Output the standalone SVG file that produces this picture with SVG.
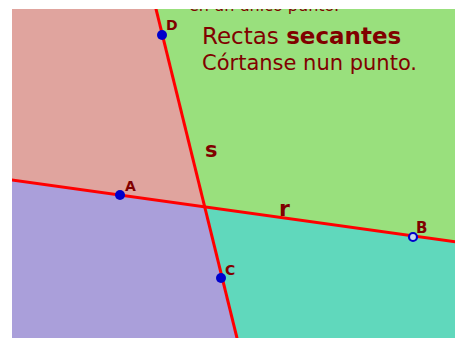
<svg xmlns="http://www.w3.org/2000/svg" width="455" height="338" viewBox="0 0 455 338">
  <defs>
    <clipPath id="frame"><rect x="12" y="9" width="443" height="329"/></clipPath>
    <style>
      .line{stroke:#ff0000;stroke-width:3;fill:none}
      .pt{fill:#0000cc}
      .lbl{font-family:"DejaVu Sans",sans-serif;font-weight:bold;fill:#800000}
      .txt{font-family:"DejaVu Sans",sans-serif;fill:#800000}
    </style>
  </defs>
  <rect width="455" height="338" fill="#ffffff"/>
  <g clip-path="url(#frame)">
    <g id="regions">
      <polygon points="12,9 156,9 204.7,206.8 12,180" fill="#e0a49e"/>
      <polygon points="156,9 455,9 455,241.7 204.7,206.8" fill="#99e07d"/>
      <polygon points="12,180 204.7,206.8 237,338 12,338" fill="#aa9fda"/>
      <polygon points="204.7,206.8 455,241.7 455,338 237,338" fill="#60d8bc"/>
    </g>
    <text class="txt" x="189" y="10.5" font-size="16">en un único punto.</text>
    <g id="connectors">
      <line id="s" class="line" x1="153.8" y1="0" x2="239.2" y2="347"/>
      <line id="r" class="line" x1="0" y1="178.3" x2="460" y2="242.4"/>
    </g>
    <g id="D"><circle class="pt" cx="162" cy="35" r="5"/><text class="lbl" x="166" y="30" font-size="14">D</text></g>
    <g id="A"><circle class="pt" cx="120" cy="195" r="5"/><text class="lbl" x="125" y="191" font-size="14">A</text></g>
    <g id="C"><circle class="pt" cx="221" cy="278" r="5"/><text class="lbl" x="225" y="275" font-size="14">C</text></g>
    <g id="B"><circle cx="413" cy="237" r="4" fill="#c8d8f0" stroke="#0000cc" stroke-width="2.2"/><text class="lbl" x="416" y="233" font-size="15">B</text></g>
    <text class="lbl" x="205" y="157" font-size="21">s</text>
    <text class="lbl" x="279" y="216" font-size="22">r</text>
    <text class="txt" x="202" y="44" font-size="23">Rectas <tspan font-weight="bold">secantes</tspan></text>
    <text class="txt" x="202" y="70" font-size="21">Córtanse nun punto.</text>
  </g>
</svg>
